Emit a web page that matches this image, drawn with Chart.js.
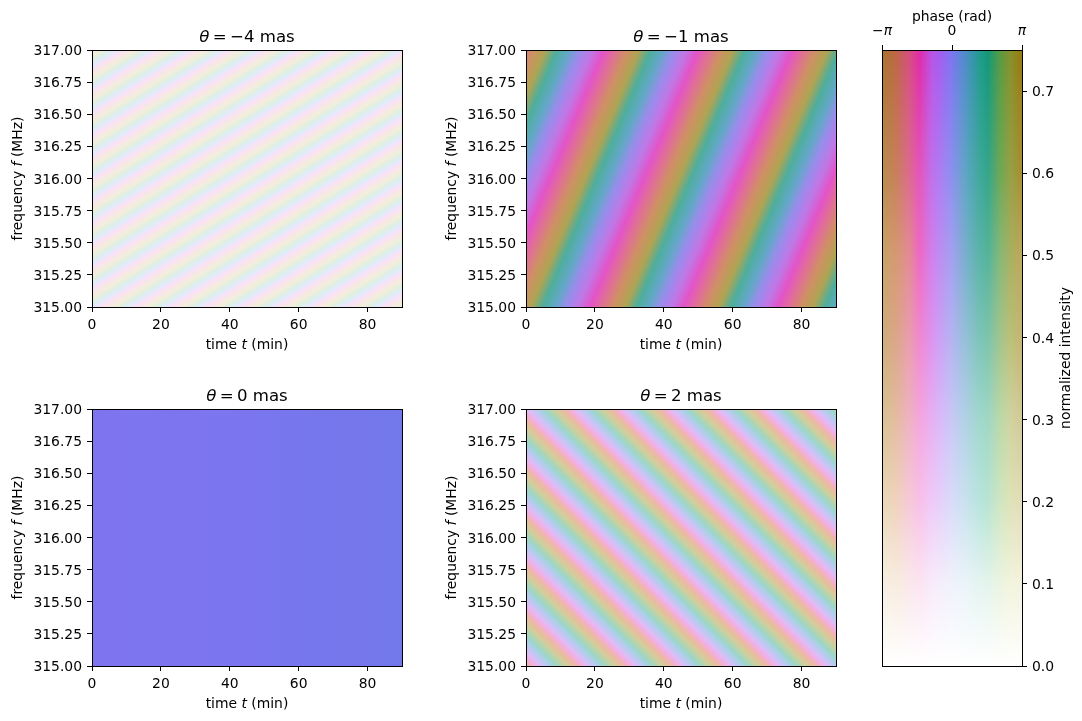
<!DOCTYPE html>
<html>
<head>
<meta charset="utf-8">
<title>Fringe phase and intensity</title>
<script src="https://cdn.jsdelivr.net/npm/chart.js@4"></script>
<style>
  html, body { margin: 0; background: #fff; }
  #page { position: relative; width: 1082px; height: 721px; overflow: hidden; }
  canvas { position: absolute; }
</style>
</head>
<body>
<div id="page"></div>
<script>
// =========================
// Axis data
// =========================
const timeRange = [0, 90];
const freqRange = [315, 317];
const timeStep = 20;
const freqStep = 0.25;
const intensityMax = 0.75;
const intensityStep = 0.1;

// =========================
// Fringe ridges: time (min) where each ridge crosses 315 and 317 MHz
// =========================
const thetaM4Bottom = [-120.87, -110.6, -100.33, -90.06, -79.79, -69.52, -59.25, -48.98, -38.71, -28.44, -18.17, -7.9, 2.37, 12.64, 22.91, 33.18, 43.45, 53.72, 63.99, 74.26, 84.53, 94.8];
const thetaM4Top = [-0.87, 9.4, 19.67, 29.94, 40.21, 50.48, 60.75, 71.02, 81.29, 91.56, 101.83, 112.1, 122.37, 132.64, 142.91, 153.18, 163.45, 173.72, 183.99, 194.26, 204.53, 214.8];
const thetaM4Colors = ['#fbe1f4', '#f8e6ea', '#f5ebe0', '#f1eedc', '#e4efde', '#deeeea', '#e0ecf8', '#ede6fb', '#fbe1f4'];

const thetaM1Bottom = [-36, -8.8, 18.5, 45.8, 73.1, 100.4];
const thetaM1Top = [-4.6, 22.6, 49.9, 77.2, 104.5, 131.8];
const thetaM1Colors = ['#e354c8', '#e07094', '#cf9064', '#b0a452', '#4eae9c', '#62a8c6', '#9a8cec', '#c077e6', '#e354c8'];

const theta0Bottom = [0, 90];
const theta0Top = [0, 90];
const theta0Colors = ['#7f74f0', '#7b76ef', '#7278e9'];

const theta2Bottom = [-11.3, 2.6, 16.5, 30.4, 44.3, 58.2, 72.1, 86, 99.9, 113.8, 127.7, 141.6, 155.5, 169.4];
const theta2Top = [-84.5, -70.6, -56.7, -42.8, -28.9, -15, -1.1, 12.8, 26.7, 40.6, 54.5, 68.4, 82.3, 96.2];
const theta2Colors = ['#f3aee2', '#dfbcf6', '#c4c6f4', '#acd0e6', '#9cd6ca', '#b2d4b0', '#d0cf9e', '#e2c29a', '#f0b4b0', '#f3aee2'];

// =========================
// Colour bar table: one row of colours per intensity level
// =========================
const barPhases = [-3.14, -2.51, -1.88, -1.44, -0.88, -0.44, 0, 0.63, 1.26, 1.63, 2.2, 2.64, 3.14];
const barIntensities = [0, 0.1, 0.2, 0.3, 0.4, 0.5, 0.6, 0.75];
const barRows = [
    ['#ffffff', '#ffffff', '#ffffff', '#ffffff', '#ffffff', '#ffffff', '#ffffff', '#ffffff', '#ffffff', '#ffffff', '#ffffff', '#ffffff', '#ffffff'],
    ['#f6f0e2', '#f8ecdf', '#fae8ec', '#fbe4f2', '#f8ebfa', '#f4eefb', '#f0f2fc', '#eaf4f8', '#e4f4f0', '#e4f4ec', '#ecf4e0', '#f2f4de', '#f4f2e0'],
    ['#e8dab8', '#f0d2bc', '#f6c8d8', '#f8c0e8', '#eecaf8', '#e4d2fa', '#d8dcf8', '#c8e2ee', '#b8e4dc', '#b8e4d2', '#d0e6c0', '#dee2b8', '#e4dcb8'],
    ['#d8c494', '#e4bca0', '#efb2c4', '#f4a6dc', '#e6b0f4', '#d8bcf8', '#c8c8f6', '#b0d2e4', '#a0d8cc', '#a0d8c4', '#bcd8a8', '#d0d4a0', '#d4c898'],
    ['#ccae7c', '#dca688', '#ea9cae', '#f088d0', '#dc94f0', '#c8a4f4', '#b4b4f2', '#94c0d8', '#7cc4b8', '#7cc4ac', '#a4c48c', '#bcc078', '#c4b474'],
    ['#c6a468', '#d69872', '#e48a96', '#ee68c4', '#d080ec', '#ba90f2', '#a4a0f0', '#78b0cc', '#5ab4a8', '#55b49a', '#88b878', '#a8b060', '#bda85c'],
    ['#b88c4e', '#c8805a', '#dc6a90', '#e455bc', '#c070ec', '#a880f2', '#8c90ee', '#5ea6c4', '#3fa89c', '#35a68a', '#70a854', '#96a046', '#a88e30'],
    ['#a8742c', '#bd6645', '#d64d82', '#e02aa8', '#b854e6', '#9e60f0', '#7b76ef', '#4c8cc8', '#1f9c8c', '#119878', '#5a9a40', '#86902a', '#97790f']
];

// =========================
// Shared styling
// =========================
const FONT = '"DejaVu Sans"';
const LABEL_SIZE = 13.9;
const TITLE_SIZE = 16.6;
Chart.defaults.font.family = FONT;
Chart.defaults.font.size = LABEL_SIZE;
Chart.defaults.color = '#000';
Chart.defaults.animation = false;

const page = document.getElementById('page');

function addCanvas(left, top, width, height) {
    const canvas = document.createElement('canvas');
    canvas.width = width;
    canvas.height = height;
    canvas.style.left = left + 'px';
    canvas.style.top = top + 'px';
    page.appendChild(canvas);
    return canvas;
}

const axisGrid = { drawOnChartArea: false, drawTicks: true, tickLength: 5, tickColor: '#000', tickWidth: 1, offset: false };

// Black box round the plot area
const frameBox = {
    id: 'frameBox',
    afterDatasetsDraw(chart) {
        const { ctx, chartArea: a } = chart;
        ctx.save();
        ctx.strokeStyle = '#000';
        ctx.lineWidth = 1;
        ctx.strokeRect(a.left + 0.5, a.top + 0.5, a.right - a.left, a.bottom - a.top);
        ctx.restore();
    }
};

// Draws [text, italic] runs in a row, centred on the origin
function drawRuns(ctx, runs, size) {
    const fontFor = italic => (italic ? 'italic ' : '') + size + 'px ' + FONT;
    let total = 0;
    runs.forEach(r => { ctx.font = fontFor(r[1]); total += ctx.measureText(r[0]).width; });
    let x = -total / 2;
    ctx.textAlign = 'left';
    ctx.textBaseline = 'alphabetic';
    ctx.fillStyle = '#000';
    runs.forEach(r => {
        ctx.font = fontFor(r[1]);
        ctx.fillText(r[0], x, 0);
        x += ctx.measureText(r[0]).width;
    });
}

// Title and axis labels with italic symbols
const mathLabels = {
    id: 'mathLabels',
    afterDraw(chart, args, opts) {
        const { ctx, chartArea: a } = chart;
        const midX = (a.left + a.right) / 2;
        const midY = (a.top + a.bottom) / 2;
        ctx.save();
        ctx.translate(midX, a.top - 8);
        drawRuns(ctx, opts.title, TITLE_SIZE);
        ctx.restore();
        ctx.save();
        ctx.translate(midX, a.bottom + 42);
        drawRuns(ctx, [['time ', false], ['t', true], [' (min)', false]], LABEL_SIZE);
        ctx.restore();
        ctx.save();
        ctx.translate(22, midY);
        ctx.rotate(-Math.PI / 2);
        drawRuns(ctx, [['frequency ', false], ['f', true], [' (MHz)', false]], LABEL_SIZE);
        ctx.restore();
    }
};

// =========================
// Fringe panels
// =========================
// Linear gradient running across the ridges, one colour cycle between neighbours
function ridgeGradient(chart, bottoms, tops, colors) {
    const { ctx, scales } = chart;
    if (!chart.chartArea) return colors[0];
    const yBottom = scales.y.getPixelForValue(freqRange[0]);
    const yTop = scales.y.getPixelForValue(freqRange[1]);
    const x0 = scales.x.getPixelForValue(bottoms[0]);
    const dx = scales.x.getPixelForValue(tops[0]) - x0;
    const dy = yTop - yBottom;
    const len = Math.hypot(dx, dy);
    // unit normal pointing towards the later ridges
    const nx = -dy / len;
    const ny = dx / len;
    const proj = i => (scales.x.getPixelForValue(bottoms[i]) - x0) * nx;
    const total = proj(bottoms.length - 1);
    const grad = ctx.createLinearGradient(x0, yBottom, x0 + nx * total, yBottom + ny * total);
    for (let i = 0; i < bottoms.length - 1; i++) {
        const from = proj(i) / total;
        const to = proj(i + 1) / total;
        colors.forEach((c, j) => grad.addColorStop(from + (to - from) * j / (colors.length - 1), c));
    }
    return grad;
}

function ridgeLine(time0, time1) {
    return [{ x: time0, y: freqRange[0] }, { x: time1, y: freqRange[1] }];
}

function fringePanel(left, top, title, bottoms, tops, colors) {
    const last = bottoms.length - 1;
    const canvas = addCanvas(left, top, 412, 361);
    return new Chart(canvas.getContext('2d'), {
        type: 'line',
        data: {
            datasets: [
                {
                    data: ridgeLine(bottoms[0], tops[0]),
                    borderWidth: 0,
                    pointRadius: 0,
                    fill: '+1',
                    backgroundColor: ctx => ridgeGradient(ctx.chart, bottoms, tops, colors)
                },
                {
                    data: ridgeLine(bottoms[last], tops[last]),
                    borderWidth: 0,
                    pointRadius: 0,
                    fill: false
                }
            ]
        },
        options: {
            responsive: false,
            indexAxis: 'y',
            layout: { padding: { top: 50, right: 10 } },
            plugins: {
                legend: { display: false },
                tooltip: { enabled: false },
                mathLabels: { title: title }
            },
            scales: {
                x: {
                    type: 'linear',
                    min: timeRange[0],
                    max: timeRange[1],
                    grid: axisGrid,
                    border: { display: false },
                    ticks: { stepSize: timeStep, includeBounds: false, maxRotation: 0, padding: 5, callback: v => v },
                    afterFit: s => { s.height = 54; }
                },
                y: {
                    type: 'linear',
                    min: freqRange[0],
                    max: freqRange[1],
                    grid: axisGrid,
                    border: { display: false },
                    ticks: { stepSize: freqStep, padding: 5, labelOffset: 1.5, callback: v => v.toFixed(2) },
                    afterFit: s => { s.width = 92; }
                }
            }
        },
        plugins: [frameBox, mathLabels]
    });
}

fringePanel(0, 0, [['θ', true], ['\u2009=\u2009−4 mas', false]], thetaM4Bottom, thetaM4Top, thetaM4Colors);
fringePanel(434, 0, [['θ', true], ['\u2009=\u2009−1 mas', false]], thetaM1Bottom, thetaM1Top, thetaM1Colors);
fringePanel(0, 359, [['θ', true], ['\u2009=\u20090 mas', false]], theta0Bottom, theta0Top, theta0Colors);
fringePanel(434, 359, [['θ', true], ['\u2009=\u20092 mas', false]], theta2Bottom, theta2Top, theta2Colors);

// =========================
// Colour bar: phase against intensity
// =========================
const hexToRgb = h => [1, 3, 5].map(i => parseInt(h.slice(i, i + 2), 16));

function barColor(row, phase) {
    let k = 0;
    while (k < barPhases.length - 2 && phase > barPhases[k + 1]) k++;
    const w = Math.min(1, Math.max(0, (phase - barPhases[k]) / (barPhases[k + 1] - barPhases[k])));
    const a = hexToRgb(barRows[row][k]);
    const b = hexToRgb(barRows[row][k + 1]);
    return 'rgb(' + a.map((v, i) => Math.round(v + (b[i] - v) * w)).join(',') + ')';
}

const barColumns = Array.from({ length: 140 }, (_, i) => (i + 0.5) / 140 * 2 * Math.PI - Math.PI);

function columnGradient(ctx) {
    const chart = ctx.chart;
    if (!chart.chartArea) return '#fff';
    const y = chart.scales.y;
    const grad = chart.ctx.createLinearGradient(0, y.getPixelForValue(0), 0, y.getPixelForValue(intensityMax));
    barIntensities.forEach((level, row) => {
        grad.addColorStop(level / intensityMax, barColor(row, barColumns[ctx.dataIndex]));
    });
    return grad;
}

// Right-hand axis label reads bottom to top
const intensityLabel = {
    id: 'intensityLabel',
    afterDraw(chart) {
        const { ctx, chartArea: a } = chart;
        ctx.save();
        ctx.translate(218, (a.top + a.bottom) / 2);
        ctx.rotate(-Math.PI / 2);
        drawRuns(ctx, [['normalized intensity', false]], LABEL_SIZE);
        ctx.restore();
    }
};

new Chart(addCanvas(852, 0, 230, 696).getContext('2d'), {
    type: 'bar',
    data: {
        labels: barColumns,
        datasets: [{
            xAxisID: 'xColumns',
            data: barColumns.map(() => [0, intensityMax]),
            backgroundColor: columnGradient,
            borderWidth: 0,
            categoryPercentage: 1,
            barPercentage: 1
        }]
    },
    options: {
        responsive: false,
        layout: { padding: { left: 30, bottom: 30 } },
        plugins: { legend: { display: false }, tooltip: { enabled: false } },
        scales: {
            xColumns: { type: 'category', display: false },
            phase: {
                type: 'linear',
                axis: 'x',
                position: 'top',
                offset: false,
                min: -Math.PI,
                max: Math.PI,
                grid: axisGrid,
                border: { display: false },
                title: { display: true, text: 'phase (rad)', padding: { top: 9, bottom: 0 } },
                afterBuildTicks: s => { s.ticks = [{ value: -Math.PI }, { value: 0 }, { value: Math.PI }]; },
                ticks: {
                    maxRotation: 0,
                    padding: 5,
                    autoSkip: false,
                    font: c => ({ style: c.tick && c.tick.value !== 0 ? 'italic' : 'normal' }),
                    callback: v => (v === 0 ? '0' : v < 0 ? '−π' : 'π')
                },
                afterFit: s => { s.height = 50; }
            },
            y: {
                type: 'linear',
                position: 'right',
                min: 0,
                max: intensityMax,
                grid: axisGrid,
                border: { display: false },
                ticks: { stepSize: intensityStep, includeBounds: false, padding: 5, labelOffset: 1.5, callback: v => v.toFixed(1) },
                afterFit: s => { s.width = 60; }
            }
        }
    },
    plugins: [frameBox, intensityLabel]
});
</script>
</body>
</html>
